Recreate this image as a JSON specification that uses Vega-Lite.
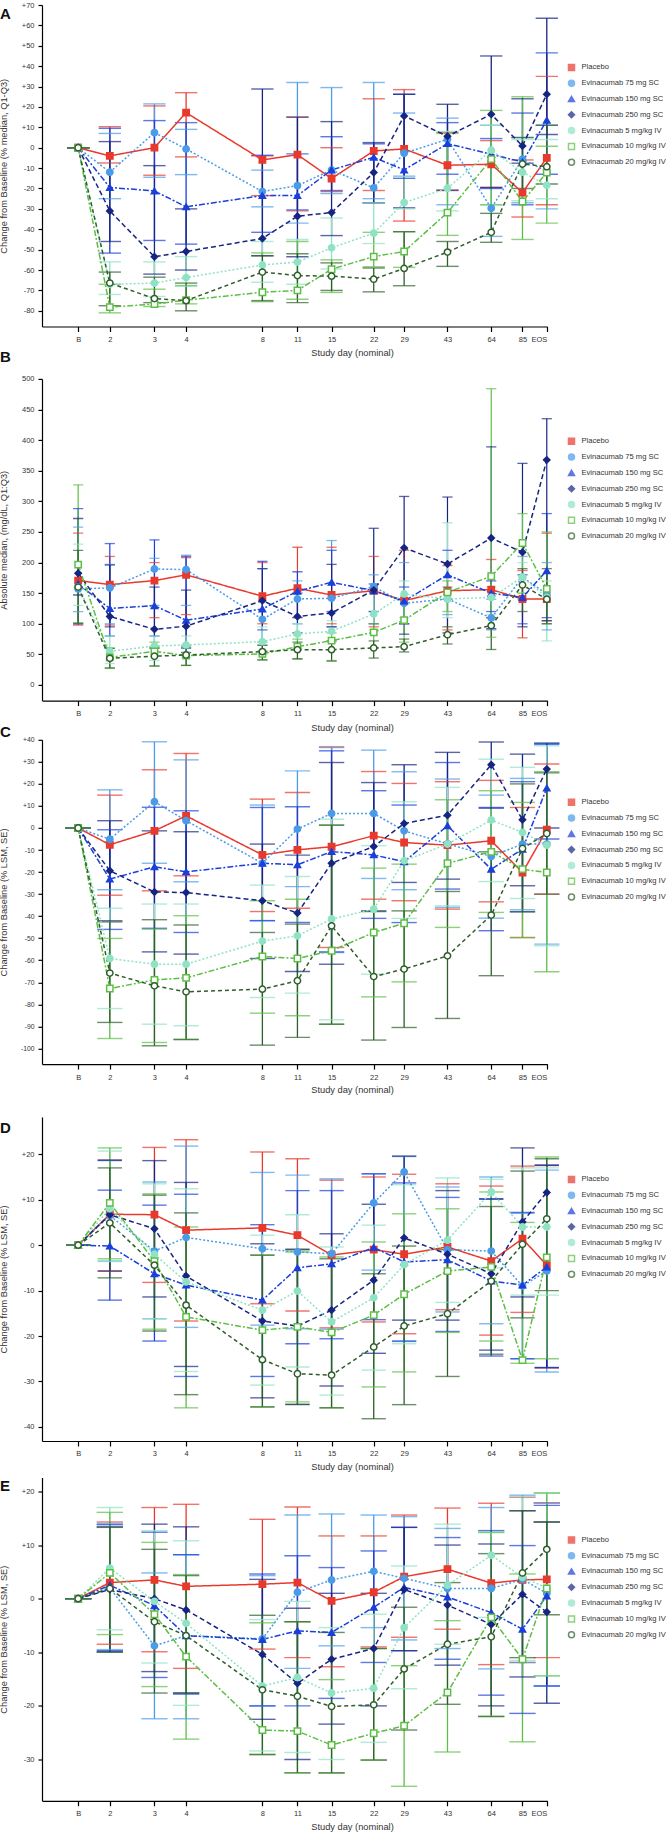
{
"$schema":"https://vega.github.io/schema/vega-lite/v6.json",
"padding":{"left":0,"top":1,"right":0,"bottom":0},
"data":{"name":"rows"},
"datasets":{"rows":[
{"p":"A","g":"Placebo","d":1.5,"v":0,"lo":0,"hi":0},
{"p":"A","g":"Placebo","d":2,"v":-4,"lo":-7.5,"hi":10.3},
{"p":"A","g":"Placebo","d":3,"v":0,"lo":-13.5,"hi":20.5},
{"p":"A","g":"Placebo","d":4,"v":17.2,"lo":-4.5,"hi":27},
{"p":"A","g":"Placebo","d":8,"v":-6,"lo":-23.5,"hi":-4},
{"p":"A","g":"Placebo","d":11,"v":-3.4,"lo":-31,"hi":15},
{"p":"A","g":"Placebo","d":15,"v":-15.1,"lo":-21.5,"hi":0},
{"p":"A","g":"Placebo","d":22,"v":-1.6,"lo":-21,"hi":24},
{"p":"A","g":"Placebo","d":29,"v":-0.6,"lo":-36,"hi":28.5},
{"p":"A","g":"Placebo","d":43,"v":-8.6,"lo":-21,"hi":7.5},
{"p":"A","g":"Placebo","d":64,"v":-8.1,"lo":-19.5,"hi":3.5},
{"p":"A","g":"Placebo","d":85,"v":-22,"lo":-34,"hi":-6},
{"p":"A","g":"Placebo","d":106,"v":-5,"lo":-28,"hi":35},
{"p":"A","g":"Evinacumab 75 mg SC","d":1.5,"v":0,"lo":0,"hi":0},
{"p":"A","g":"Evinacumab 75 mg SC","d":2,"v":-12,"lo":-25,"hi":7},
{"p":"A","g":"Evinacumab 75 mg SC","d":3,"v":7.4,"lo":-14.5,"hi":21.5},
{"p":"A","g":"Evinacumab 75 mg SC","d":4,"v":-0.6,"lo":-13.2,"hi":9},
{"p":"A","g":"Evinacumab 75 mg SC","d":8,"v":-21.5,"lo":-29,"hi":-11},
{"p":"A","g":"Evinacumab 75 mg SC","d":11,"v":-18.6,"lo":-37,"hi":32},
{"p":"A","g":"Evinacumab 75 mg SC","d":15,"v":-10.9,"lo":-22.5,"hi":29.5},
{"p":"A","g":"Evinacumab 75 mg SC","d":22,"v":-19.7,"lo":-25,"hi":32},
{"p":"A","g":"Evinacumab 75 mg SC","d":29,"v":-2.7,"lo":-14,"hi":17},
{"p":"A","g":"Evinacumab 75 mg SC","d":43,"v":4.1,"lo":-28,"hi":14.5},
{"p":"A","g":"Evinacumab 75 mg SC","d":64,"v":-29.7,"lo":-43.5,"hi":11},
{"p":"A","g":"Evinacumab 75 mg SC","d":85,"v":-5.6,"lo":-27,"hi":5},
{"p":"A","g":"Evinacumab 75 mg SC","d":106,"v":-11.7,"lo":-30,"hi":11},
{"p":"A","g":"Evinacumab 150 mg SC","d":1.5,"v":0,"lo":0,"hi":0},
{"p":"A","g":"Evinacumab 150 mg SC","d":2,"v":-19.5,"lo":-51.7,"hi":9.5},
{"p":"A","g":"Evinacumab 150 mg SC","d":3,"v":-21.2,"lo":-45.5,"hi":13.3},
{"p":"A","g":"Evinacumab 150 mg SC","d":4,"v":-29,"lo":-47.3,"hi":12.3},
{"p":"A","g":"Evinacumab 150 mg SC","d":8,"v":-23.5,"lo":-41.5,"hi":-3.7},
{"p":"A","g":"Evinacumab 150 mg SC","d":11,"v":-23.5,"lo":-30.5,"hi":-3},
{"p":"A","g":"Evinacumab 150 mg SC","d":15,"v":-10.9,"lo":-21,"hi":5.4},
{"p":"A","g":"Evinacumab 150 mg SC","d":22,"v":-4.7,"lo":-27,"hi":1.9},
{"p":"A","g":"Evinacumab 150 mg SC","d":29,"v":-10.9,"lo":-15,"hi":26.2},
{"p":"A","g":"Evinacumab 150 mg SC","d":43,"v":2,"lo":-13,"hi":12.3},
{"p":"A","g":"Evinacumab 150 mg SC","d":64,"v":-3.2,"lo":-20,"hi":4.5},
{"p":"A","g":"Evinacumab 150 mg SC","d":85,"v":-7,"lo":-28,"hi":17},
{"p":"A","g":"Evinacumab 150 mg SC","d":106,"v":13.5,"lo":-13,"hi":46.5},
{"p":"A","g":"Evinacumab 250 mg SC","d":1.5,"v":0,"lo":0,"hi":0},
{"p":"A","g":"Evinacumab 250 mg SC","d":2,"v":-31,"lo":-46,"hi":3},
{"p":"A","g":"Evinacumab 250 mg SC","d":3,"v":-53.5,"lo":-62,"hi":-8.8},
{"p":"A","g":"Evinacumab 250 mg SC","d":4,"v":-50.9,"lo":-60,"hi":-30},
{"p":"A","g":"Evinacumab 250 mg SC","d":8,"v":-44.5,"lo":-53,"hi":28.8},
{"p":"A","g":"Evinacumab 250 mg SC","d":11,"v":-33.6,"lo":-53.5,"hi":15},
{"p":"A","g":"Evinacumab 250 mg SC","d":15,"v":-31.8,"lo":-43.1,"hi":12.8},
{"p":"A","g":"Evinacumab 250 mg SC","d":22,"v":-12.2,"lo":-27,"hi":2.5},
{"p":"A","g":"Evinacumab 250 mg SC","d":29,"v":15.6,"lo":-29.5,"hi":26.2},
{"p":"A","g":"Evinacumab 250 mg SC","d":43,"v":5.6,"lo":-20.8,"hi":21.3},
{"p":"A","g":"Evinacumab 250 mg SC","d":64,"v":16.4,"lo":-19.5,"hi":45},
{"p":"A","g":"Evinacumab 250 mg SC","d":85,"v":0.9,"lo":-7.6,"hi":24},
{"p":"A","g":"Evinacumab 250 mg SC","d":106,"v":26.2,"lo":6.5,"hi":63.5},
{"p":"A","g":"Evinacumab 5 mg/kg IV","d":1.5,"v":0,"lo":0,"hi":0},
{"p":"A","g":"Evinacumab 5 mg/kg IV","d":2,"v":-67,"lo":-72,"hi":-56},
{"p":"A","g":"Evinacumab 5 mg/kg IV","d":3,"v":-66.4,"lo":-73,"hi":-56},
{"p":"A","g":"Evinacumab 5 mg/kg IV","d":4,"v":-63.7,"lo":-68,"hi":-53.4},
{"p":"A","g":"Evinacumab 5 mg/kg IV","d":8,"v":-57.5,"lo":-66,"hi":-46},
{"p":"A","g":"Evinacumab 5 mg/kg IV","d":11,"v":-56.1,"lo":-67,"hi":-45},
{"p":"A","g":"Evinacumab 5 mg/kg IV","d":15,"v":-49.1,"lo":-59.5,"hi":-34.5},
{"p":"A","g":"Evinacumab 5 mg/kg IV","d":22,"v":-41.9,"lo":-47,"hi":-27},
{"p":"A","g":"Evinacumab 5 mg/kg IV","d":29,"v":-26.9,"lo":-30,"hi":-14},
{"p":"A","g":"Evinacumab 5 mg/kg IV","d":43,"v":-19.9,"lo":-31,"hi":8},
{"p":"A","g":"Evinacumab 5 mg/kg IV","d":64,"v":-1.2,"lo":-28,"hi":11},
{"p":"A","g":"Evinacumab 5 mg/kg IV","d":85,"v":-12,"lo":-26,"hi":4},
{"p":"A","g":"Evinacumab 5 mg/kg IV","d":106,"v":-18.4,"lo":-25,"hi":4},
{"p":"A","g":"Evinacumab 10 mg/kg IV","d":1.5,"v":0,"lo":0,"hi":0},
{"p":"A","g":"Evinacumab 10 mg/kg IV","d":2,"v":-78.2,"lo":-81,"hi":-67},
{"p":"A","g":"Evinacumab 10 mg/kg IV","d":3,"v":-76.7,"lo":-77.9,"hi":-69.4},
{"p":"A","g":"Evinacumab 10 mg/kg IV","d":4,"v":-74.8,"lo":-76.6,"hi":-67.6},
{"p":"A","g":"Evinacumab 10 mg/kg IV","d":8,"v":-70.9,"lo":-75.5,"hi":-51.6},
{"p":"A","g":"Evinacumab 10 mg/kg IV","d":11,"v":-70,"lo":-74.3,"hi":-46},
{"p":"A","g":"Evinacumab 10 mg/kg IV","d":15,"v":-59.6,"lo":-71,"hi":-55},
{"p":"A","g":"Evinacumab 10 mg/kg IV","d":22,"v":-53.4,"lo":-58.4,"hi":-41.5},
{"p":"A","g":"Evinacumab 10 mg/kg IV","d":29,"v":-50.9,"lo":-58.7,"hi":-41.2},
{"p":"A","g":"Evinacumab 10 mg/kg IV","d":43,"v":-31.8,"lo":-43,"hi":7},
{"p":"A","g":"Evinacumab 10 mg/kg IV","d":64,"v":-5.6,"lo":-28,"hi":18.3},
{"p":"A","g":"Evinacumab 10 mg/kg IV","d":85,"v":-26.4,"lo":-45,"hi":25},
{"p":"A","g":"Evinacumab 10 mg/kg IV","d":106,"v":-12.2,"lo":-37,"hi":0.7},
{"p":"A","g":"Evinacumab 20 mg/kg IV","d":1.5,"v":0,"lo":0,"hi":0},
{"p":"A","g":"Evinacumab 20 mg/kg IV","d":2,"v":-66.4,"lo":-77.5,"hi":-61},
{"p":"A","g":"Evinacumab 20 mg/kg IV","d":3,"v":-74,"lo":-76,"hi":-63.5},
{"p":"A","g":"Evinacumab 20 mg/kg IV","d":4,"v":-75,"lo":-80,"hi":-66.4},
{"p":"A","g":"Evinacumab 20 mg/kg IV","d":8,"v":-61,"lo":-75,"hi":-53},
{"p":"A","g":"Evinacumab 20 mg/kg IV","d":11,"v":-62.7,"lo":-76,"hi":-52},
{"p":"A","g":"Evinacumab 20 mg/kg IV","d":15,"v":-63,"lo":-70,"hi":-56.5},
{"p":"A","g":"Evinacumab 20 mg/kg IV","d":22,"v":-64.5,"lo":-70.7,"hi":-59},
{"p":"A","g":"Evinacumab 20 mg/kg IV","d":29,"v":-59.2,"lo":-67.7,"hi":-41.2},
{"p":"A","g":"Evinacumab 20 mg/kg IV","d":43,"v":-51.2,"lo":-58.2,"hi":-46},
{"p":"A","g":"Evinacumab 20 mg/kg IV","d":64,"v":-41.5,"lo":-46.4,"hi":-32.2},
{"p":"A","g":"Evinacumab 20 mg/kg IV","d":85,"v":-8,"lo":-20,"hi":5},
{"p":"A","g":"Evinacumab 20 mg/kg IV","d":106,"v":-9.3,"lo":-17.8,"hi":11},

{"p":"B","g":"Placebo","d":1.5,"v":170.5,"lo":98,"hi":248},
{"p":"B","g":"Placebo","d":2,"v":164,"lo":98,"hi":210},
{"p":"B","g":"Placebo","d":3,"v":170.5,"lo":110,"hi":200},
{"p":"B","g":"Placebo","d":4,"v":180,"lo":115,"hi":208},
{"p":"B","g":"Placebo","d":8,"v":145,"lo":100,"hi":200},
{"p":"B","g":"Placebo","d":11,"v":158,"lo":110,"hi":225},
{"p":"B","g":"Placebo","d":15,"v":147,"lo":100,"hi":225},
{"p":"B","g":"Placebo","d":22,"v":154,"lo":95,"hi":210},
{"p":"B","g":"Placebo","d":29,"v":137.8,"lo":100,"hi":220},
{"p":"B","g":"Placebo","d":43,"v":154,"lo":90,"hi":195},
{"p":"B","g":"Placebo","d":64,"v":155.8,"lo":110,"hi":205},
{"p":"B","g":"Placebo","d":85,"v":140.5,"lo":77,"hi":187},
{"p":"B","g":"Placebo","d":106,"v":140.5,"lo":105,"hi":248},
{"p":"B","g":"Evinacumab 75 mg SC","d":1.5,"v":157,"lo":120,"hi":258},
{"p":"B","g":"Evinacumab 75 mg SC","d":2,"v":158.5,"lo":100,"hi":197},
{"p":"B","g":"Evinacumab 75 mg SC","d":3,"v":189.5,"lo":130,"hi":207},
{"p":"B","g":"Evinacumab 75 mg SC","d":4,"v":188.5,"lo":130,"hi":212},
{"p":"B","g":"Evinacumab 75 mg SC","d":8,"v":107.3,"lo":70,"hi":190},
{"p":"B","g":"Evinacumab 75 mg SC","d":11,"v":140.5,"lo":100,"hi":170},
{"p":"B","g":"Evinacumab 75 mg SC","d":15,"v":141.6,"lo":95,"hi":236},
{"p":"B","g":"Evinacumab 75 mg SC","d":22,"v":160.7,"lo":120,"hi":180},
{"p":"B","g":"Evinacumab 75 mg SC","d":29,"v":133.5,"lo":100,"hi":200},
{"p":"B","g":"Evinacumab 75 mg SC","d":43,"v":140.5,"lo":115,"hi":160},
{"p":"B","g":"Evinacumab 75 mg SC","d":64,"v":109.5,"lo":90,"hi":140},
{"p":"B","g":"Evinacumab 75 mg SC","d":85,"v":176,"lo":140,"hi":210},
{"p":"B","g":"Evinacumab 75 mg SC","d":106,"v":148.7,"lo":90,"hi":200},
{"p":"B","g":"Evinacumab 150 mg SC","d":1.5,"v":165,"lo":100,"hi":288},
{"p":"B","g":"Evinacumab 150 mg SC","d":2,"v":125,"lo":80,"hi":231},
{"p":"B","g":"Evinacumab 150 mg SC","d":3,"v":129.6,"lo":80,"hi":237},
{"p":"B","g":"Evinacumab 150 mg SC","d":4,"v":105.7,"lo":60,"hi":210},
{"p":"B","g":"Evinacumab 150 mg SC","d":8,"v":124.2,"lo":90,"hi":202},
{"p":"B","g":"Evinacumab 150 mg SC","d":11,"v":153,"lo":110,"hi":185},
{"p":"B","g":"Evinacumab 150 mg SC","d":15,"v":167.8,"lo":120,"hi":220},
{"p":"B","g":"Evinacumab 150 mg SC","d":22,"v":154,"lo":120,"hi":165},
{"p":"B","g":"Evinacumab 150 mg SC","d":29,"v":137,"lo":100,"hi":160},
{"p":"B","g":"Evinacumab 150 mg SC","d":43,"v":180,"lo":140,"hi":220},
{"p":"B","g":"Evinacumab 150 mg SC","d":64,"v":150,"lo":120,"hi":170},
{"p":"B","g":"Evinacumab 150 mg SC","d":85,"v":143,"lo":100,"hi":180},
{"p":"B","g":"Evinacumab 150 mg SC","d":106,"v":186.8,"lo":110,"hi":280},
{"p":"B","g":"Evinacumab 250 mg SC","d":1.5,"v":182.5,"lo":147,"hi":272},
{"p":"B","g":"Evinacumab 250 mg SC","d":2,"v":112,"lo":95,"hi":196},
{"p":"B","g":"Evinacumab 250 mg SC","d":3,"v":91,"lo":60,"hi":160},
{"p":"B","g":"Evinacumab 250 mg SC","d":4,"v":96,"lo":53,"hi":155},
{"p":"B","g":"Evinacumab 250 mg SC","d":8,"v":137.8,"lo":55,"hi":190},
{"p":"B","g":"Evinacumab 250 mg SC","d":11,"v":112,"lo":85,"hi":150},
{"p":"B","g":"Evinacumab 250 mg SC","d":15,"v":117.7,"lo":95,"hi":197},
{"p":"B","g":"Evinacumab 250 mg SC","d":22,"v":155,"lo":100,"hi":256},
{"p":"B","g":"Evinacumab 250 mg SC","d":29,"v":224,"lo":83,"hi":308},
{"p":"B","g":"Evinacumab 250 mg SC","d":43,"v":197.7,"lo":85,"hi":307},
{"p":"B","g":"Evinacumab 250 mg SC","d":64,"v":240,"lo":92,"hi":389},
{"p":"B","g":"Evinacumab 250 mg SC","d":85,"v":216.8,"lo":95,"hi":362},
{"p":"B","g":"Evinacumab 250 mg SC","d":106,"v":367.7,"lo":105,"hi":435},
{"p":"B","g":"Evinacumab 5 mg/kg IV","d":1.5,"v":160,"lo":130,"hi":230},
{"p":"B","g":"Evinacumab 5 mg/kg IV","d":2,"v":55,"lo":35,"hi":80},
{"p":"B","g":"Evinacumab 5 mg/kg IV","d":3,"v":63.7,"lo":40,"hi":80},
{"p":"B","g":"Evinacumab 5 mg/kg IV","d":4,"v":65.4,"lo":45,"hi":80},
{"p":"B","g":"Evinacumab 5 mg/kg IV","d":8,"v":70.8,"lo":50,"hi":95},
{"p":"B","g":"Evinacumab 5 mg/kg IV","d":11,"v":83.3,"lo":60,"hi":100},
{"p":"B","g":"Evinacumab 5 mg/kg IV","d":15,"v":87.7,"lo":70,"hi":105},
{"p":"B","g":"Evinacumab 5 mg/kg IV","d":22,"v":116,"lo":90,"hi":150},
{"p":"B","g":"Evinacumab 5 mg/kg IV","d":29,"v":148.7,"lo":110,"hi":170},
{"p":"B","g":"Evinacumab 5 mg/kg IV","d":43,"v":140.5,"lo":110,"hi":265},
{"p":"B","g":"Evinacumab 5 mg/kg IV","d":64,"v":143,"lo":115,"hi":160},
{"p":"B","g":"Evinacumab 5 mg/kg IV","d":85,"v":176,"lo":150,"hi":200},
{"p":"B","g":"Evinacumab 5 mg/kg IV","d":106,"v":143,"lo":72,"hi":170},
{"p":"B","g":"Evinacumab 10 mg/kg IV","d":1.5,"v":196.6,"lo":101,"hi":327},
{"p":"B","g":"Evinacumab 10 mg/kg IV","d":2,"v":45,"lo":27,"hi":60},
{"p":"B","g":"Evinacumab 10 mg/kg IV","d":3,"v":55,"lo":31,"hi":70},
{"p":"B","g":"Evinacumab 10 mg/kg IV","d":4,"v":48,"lo":32,"hi":65},
{"p":"B","g":"Evinacumab 10 mg/kg IV","d":8,"v":50.7,"lo":41,"hi":65},
{"p":"B","g":"Evinacumab 10 mg/kg IV","d":11,"v":62.6,"lo":42,"hi":75},
{"p":"B","g":"Evinacumab 10 mg/kg IV","d":15,"v":72.4,"lo":40,"hi":85},
{"p":"B","g":"Evinacumab 10 mg/kg IV","d":22,"v":86,"lo":60,"hi":100},
{"p":"B","g":"Evinacumab 10 mg/kg IV","d":29,"v":106,"lo":70,"hi":140},
{"p":"B","g":"Evinacumab 10 mg/kg IV","d":43,"v":151.4,"lo":120,"hi":170},
{"p":"B","g":"Evinacumab 10 mg/kg IV","d":64,"v":177.6,"lo":78,"hi":484},
{"p":"B","g":"Evinacumab 10 mg/kg IV","d":85,"v":232,"lo":150,"hi":280},
{"p":"B","g":"Evinacumab 10 mg/kg IV","d":106,"v":157,"lo":100,"hi":250},
{"p":"B","g":"Evinacumab 20 mg/kg IV","d":1.5,"v":160,"lo":101,"hi":220},
{"p":"B","g":"Evinacumab 20 mg/kg IV","d":2,"v":43.6,"lo":28,"hi":60},
{"p":"B","g":"Evinacumab 20 mg/kg IV","d":3,"v":47,"lo":31,"hi":62},
{"p":"B","g":"Evinacumab 20 mg/kg IV","d":4,"v":49,"lo":32,"hi":62},
{"p":"B","g":"Evinacumab 20 mg/kg IV","d":8,"v":54.5,"lo":41,"hi":65},
{"p":"B","g":"Evinacumab 20 mg/kg IV","d":11,"v":57.7,"lo":43,"hi":70},
{"p":"B","g":"Evinacumab 20 mg/kg IV","d":15,"v":57.7,"lo":39,"hi":72},
{"p":"B","g":"Evinacumab 20 mg/kg IV","d":22,"v":60.5,"lo":44,"hi":72},
{"p":"B","g":"Evinacumab 20 mg/kg IV","d":29,"v":62.6,"lo":54,"hi":75},
{"p":"B","g":"Evinacumab 20 mg/kg IV","d":43,"v":82.2,"lo":67,"hi":95},
{"p":"B","g":"Evinacumab 20 mg/kg IV","d":64,"v":97,"lo":58,"hi":110},
{"p":"B","g":"Evinacumab 20 mg/kg IV","d":85,"v":163.4,"lo":120,"hi":190},
{"p":"B","g":"Evinacumab 20 mg/kg IV","d":106,"v":140,"lo":100,"hi":190},

{"p":"C","g":"Placebo","d":1.5,"v":0,"lo":0,"hi":0},
{"p":"C","g":"Placebo","d":2,"v":-7.6,"lo":-30.5,"hi":14.9},
{"p":"C","g":"Placebo","d":3,"v":-1.3,"lo":-28.5,"hi":26.4},
{"p":"C","g":"Placebo","d":4,"v":5.5,"lo":-21.7,"hi":33.8},
{"p":"C","g":"Placebo","d":8,"v":-12.2,"lo":-37.9,"hi":13.1},
{"p":"C","g":"Placebo","d":11,"v":-9.9,"lo":-36.4,"hi":16.1},
{"p":"C","g":"Placebo","d":15,"v":-8.5,"lo":-54.2,"hi":36.8},
{"p":"C","g":"Placebo","d":22,"v":-3.5,"lo":-32.3,"hi":25.6},
{"p":"C","g":"Placebo","d":29,"v":-6.6,"lo":-33,"hi":20.2},
{"p":"C","g":"Placebo","d":43,"v":-7.8,"lo":-36.8,"hi":21},
{"p":"C","g":"Placebo","d":64,"v":-5.8,"lo":-33.5,"hi":21.6},
{"p":"C","g":"Placebo","d":85,"v":-20.2,"lo":-49.7,"hi":9.3},
{"p":"C","g":"Placebo","d":106,"v":-0.8,"lo":-30,"hi":29},
{"p":"C","g":"Evinacumab 75 mg SC","d":1.5,"v":0,"lo":0,"hi":0},
{"p":"C","g":"Evinacumab 75 mg SC","d":2,"v":-5.1,"lo":-28,"hi":17.3},
{"p":"C","g":"Evinacumab 75 mg SC","d":3,"v":11.9,"lo":-16,"hi":39.1},
{"p":"C","g":"Evinacumab 75 mg SC","d":4,"v":3.3,"lo":-24.4,"hi":30.9},
{"p":"C","g":"Evinacumab 75 mg SC","d":8,"v":-16,"lo":-42.1,"hi":10.4},
{"p":"C","g":"Evinacumab 75 mg SC","d":11,"v":-0.5,"lo":-26.6,"hi":25.9},
{"p":"C","g":"Evinacumab 75 mg SC","d":15,"v":6.6,"lo":-56.5,"hi":36.5},
{"p":"C","g":"Evinacumab 75 mg SC","d":22,"v":6.6,"lo":-22.9,"hi":35.3},
{"p":"C","g":"Evinacumab 75 mg SC","d":29,"v":-1.3,"lo":-28,"hi":25.5},
{"p":"C","g":"Evinacumab 75 mg SC","d":43,"v":-7.2,"lo":-36,"hi":22.2},
{"p":"C","g":"Evinacumab 75 mg SC","d":64,"v":-12.9,"lo":-40.9,"hi":14.9},
{"p":"C","g":"Evinacumab 75 mg SC","d":85,"v":-7.3,"lo":-37.1,"hi":22.5},
{"p":"C","g":"Evinacumab 75 mg SC","d":106,"v":-7.3,"lo":-52.7,"hi":38.5},
{"p":"C","g":"Evinacumab 150 mg SC","d":1.5,"v":0,"lo":0,"hi":0},
{"p":"C","g":"Evinacumab 150 mg SC","d":2,"v":-23.2,"lo":-46,"hi":-0.8},
{"p":"C","g":"Evinacumab 150 mg SC","d":3,"v":-17.6,"lo":-45.5,"hi":9.4},
{"p":"C","g":"Evinacumab 150 mg SC","d":4,"v":-19.9,"lo":-47.4,"hi":7.8},
{"p":"C","g":"Evinacumab 150 mg SC","d":8,"v":-16,"lo":-42,"hi":9.3},
{"p":"C","g":"Evinacumab 150 mg SC","d":11,"v":-16.7,"lo":-42.9,"hi":9.6},
{"p":"C","g":"Evinacumab 150 mg SC","d":15,"v":-10.7,"lo":-56.2,"hi":35},
{"p":"C","g":"Evinacumab 150 mg SC","d":22,"v":-12.2,"lo":-41,"hi":16.9},
{"p":"C","g":"Evinacumab 150 mg SC","d":29,"v":-15.3,"lo":-42.9,"hi":10.4},
{"p":"C","g":"Evinacumab 150 mg SC","d":43,"v":1,"lo":-27.7,"hi":29.7},
{"p":"C","g":"Evinacumab 150 mg SC","d":64,"v":-18.7,"lo":-46.6,"hi":9.3},
{"p":"C","g":"Evinacumab 150 mg SC","d":85,"v":-9.6,"lo":-38,"hi":21},
{"p":"C","g":"Evinacumab 150 mg SC","d":106,"v":18.1,"lo":-5,"hi":38},
{"p":"C","g":"Evinacumab 250 mg SC","d":1.5,"v":0,"lo":0,"hi":0},
{"p":"C","g":"Evinacumab 250 mg SC","d":2,"v":-19.4,"lo":-42.1,"hi":3.3},
{"p":"C","g":"Evinacumab 250 mg SC","d":3,"v":-29,"lo":-56.2,"hi":-1.3},
{"p":"C","g":"Evinacumab 250 mg SC","d":4,"v":-29.3,"lo":-57.2,"hi":-1.7},
{"p":"C","g":"Evinacumab 250 mg SC","d":8,"v":-33,"lo":-59.2,"hi":-7.3},
{"p":"C","g":"Evinacumab 250 mg SC","d":11,"v":-38.6,"lo":-65.1,"hi":-12.3},
{"p":"C","g":"Evinacumab 250 mg SC","d":15,"v":-16,"lo":-61.8,"hi":29.7},
{"p":"C","g":"Evinacumab 250 mg SC","d":22,"v":-8.4,"lo":-37.6,"hi":20.6},
{"p":"C","g":"Evinacumab 250 mg SC","d":29,"v":2,"lo":-24.7,"hi":28.7},
{"p":"C","g":"Evinacumab 250 mg SC","d":43,"v":5.8,"lo":-23.2,"hi":34.3},
{"p":"C","g":"Evinacumab 250 mg SC","d":64,"v":28.7,"lo":9,"hi":39},
{"p":"C","g":"Evinacumab 250 mg SC","d":85,"v":3.7,"lo":-26.2,"hi":33.5},
{"p":"C","g":"Evinacumab 250 mg SC","d":106,"v":26.7,"lo":0,"hi":38.5},
{"p":"C","g":"Evinacumab 5 mg/kg IV","d":1.5,"v":0,"lo":0,"hi":0},
{"p":"C","g":"Evinacumab 5 mg/kg IV","d":2,"v":-59.2,"lo":-81.9,"hi":-36.4},
{"p":"C","g":"Evinacumab 5 mg/kg IV","d":3,"v":-61.8,"lo":-89,"hi":-34.5},
{"p":"C","g":"Evinacumab 5 mg/kg IV","d":4,"v":-61.8,"lo":-89.7,"hi":-34.5},
{"p":"C","g":"Evinacumab 5 mg/kg IV","d":8,"v":-51.3,"lo":-76.9,"hi":-25.9},
{"p":"C","g":"Evinacumab 5 mg/kg IV","d":11,"v":-48.9,"lo":-74.9,"hi":-22},
{"p":"C","g":"Evinacumab 5 mg/kg IV","d":15,"v":-41.3,"lo":-87,"hi":4},
{"p":"C","g":"Evinacumab 5 mg/kg IV","d":22,"v":-36.8,"lo":-66.3,"hi":-8},
{"p":"C","g":"Evinacumab 5 mg/kg IV","d":29,"v":-14.9,"lo":-41,"hi":11.9},
{"p":"C","g":"Evinacumab 5 mg/kg IV","d":43,"v":-7.3,"lo":-35.3,"hi":18.4},
{"p":"C","g":"Evinacumab 5 mg/kg IV","d":64,"v":3.6,"lo":-24.3,"hi":31.2},
{"p":"C","g":"Evinacumab 5 mg/kg IV","d":85,"v":-2,"lo":-32,"hi":27.5},
{"p":"C","g":"Evinacumab 5 mg/kg IV","d":106,"v":-7.8,"lo":-53.4,"hi":37.3},
{"p":"C","g":"Evinacumab 10 mg/kg IV","d":1.5,"v":0,"lo":0,"hi":0},
{"p":"C","g":"Evinacumab 10 mg/kg IV","d":2,"v":-72.8,"lo":-95.5,"hi":-50.1},
{"p":"C","g":"Evinacumab 10 mg/kg IV","d":3,"v":-68.9,"lo":-97.3,"hi":-45.9},
{"p":"C","g":"Evinacumab 10 mg/kg IV","d":4,"v":-68,"lo":-95.8,"hi":-39.8},
{"p":"C","g":"Evinacumab 10 mg/kg IV","d":8,"v":-58.3,"lo":-84,"hi":-33},
{"p":"C","g":"Evinacumab 10 mg/kg IV","d":11,"v":-59.2,"lo":-85.2,"hi":-32.3},
{"p":"C","g":"Evinacumab 10 mg/kg IV","d":15,"v":-55.7,"lo":-89,"hi":1.3},
{"p":"C","g":"Evinacumab 10 mg/kg IV","d":22,"v":-47.4,"lo":-76.6,"hi":-18.2},
{"p":"C","g":"Evinacumab 10 mg/kg IV","d":29,"v":-43.2,"lo":-69.8,"hi":-16.4},
{"p":"C","g":"Evinacumab 10 mg/kg IV","d":43,"v":-16,"lo":-45.1,"hi":12.8},
{"p":"C","g":"Evinacumab 10 mg/kg IV","d":64,"v":-10.8,"lo":-38.3,"hi":16.9},
{"p":"C","g":"Evinacumab 10 mg/kg IV","d":85,"v":-18.7,"lo":-49.7,"hi":11.6},
{"p":"C","g":"Evinacumab 10 mg/kg IV","d":106,"v":-20.2,"lo":-65.2,"hi":25.5},
{"p":"C","g":"Evinacumab 20 mg/kg IV","d":1.5,"v":0,"lo":0,"hi":0},
{"p":"C","g":"Evinacumab 20 mg/kg IV","d":2,"v":-65.8,"lo":-88.2,"hi":-42.6},
{"p":"C","g":"Evinacumab 20 mg/kg IV","d":3,"v":-71.6,"lo":-98.8,"hi":-41.6},
{"p":"C","g":"Evinacumab 20 mg/kg IV","d":4,"v":-74.3,"lo":-96,"hi":-44},
{"p":"C","g":"Evinacumab 20 mg/kg IV","d":8,"v":-73.1,"lo":-98.5,"hi":-47.4},
{"p":"C","g":"Evinacumab 20 mg/kg IV","d":11,"v":-69.3,"lo":-95,"hi":-43.6},
{"p":"C","g":"Evinacumab 20 mg/kg IV","d":15,"v":-44.4,"lo":-89,"hi":1.3},
{"p":"C","g":"Evinacumab 20 mg/kg IV","d":22,"v":-67.4,"lo":-96.2,"hi":-37.9},
{"p":"C","g":"Evinacumab 20 mg/kg IV","d":29,"v":-64,"lo":-90.5,"hi":-37.6},
{"p":"C","g":"Evinacumab 20 mg/kg IV","d":43,"v":-58,"lo":-86.4,"hi":-28.8},
{"p":"C","g":"Evinacumab 20 mg/kg IV","d":64,"v":-39.5,"lo":-67,"hi":-10.8},
{"p":"C","g":"Evinacumab 20 mg/kg IV","d":85,"v":-9.3,"lo":-38,"hi":20},
{"p":"C","g":"Evinacumab 20 mg/kg IV","d":106,"v":-2.5,"lo":-30,"hi":25},

{"p":"D","g":"Placebo","d":1.5,"v":0,"lo":0,"hi":0},
{"p":"D","g":"Placebo","d":2,"v":6.8,"lo":-5.7,"hi":18.7},
{"p":"D","g":"Placebo","d":3,"v":6.7,"lo":-8.2,"hi":21.5},
{"p":"D","g":"Placebo","d":4,"v":3.3,"lo":-16.7,"hi":23.2},
{"p":"D","g":"Placebo","d":8,"v":3.8,"lo":-12.9,"hi":20.5},
{"p":"D","g":"Placebo","d":11,"v":2.2,"lo":-14.5,"hi":19},
{"p":"D","g":"Placebo","d":15,"v":-2.2,"lo":-18.2,"hi":14.3},
{"p":"D","g":"Placebo","d":22,"v":-1,"lo":-16.9,"hi":15},
{"p":"D","g":"Placebo","d":29,"v":-2,"lo":-19.5,"hi":15.6},
{"p":"D","g":"Placebo","d":43,"v":-0.4,"lo":-14.2,"hi":13.5},
{"p":"D","g":"Placebo","d":64,"v":-3.5,"lo":-19.8,"hi":13},
{"p":"D","g":"Placebo","d":85,"v":1.4,"lo":-14.8,"hi":17.4},
{"p":"D","g":"Placebo","d":106,"v":-4.4,"lo":-27,"hi":17.5},
{"p":"D","g":"Evinacumab 75 mg SC","d":1.5,"v":0,"lo":0,"hi":0},
{"p":"D","g":"Evinacumab 75 mg SC","d":2,"v":6.5,"lo":-3.5,"hi":18.6},
{"p":"D","g":"Evinacumab 75 mg SC","d":3,"v":-1.3,"lo":-16.2,"hi":13.9},
{"p":"D","g":"Evinacumab 75 mg SC","d":4,"v":1.7,"lo":-18.1,"hi":21.8},
{"p":"D","g":"Evinacumab 75 mg SC","d":8,"v":-0.8,"lo":-17.6,"hi":16},
{"p":"D","g":"Evinacumab 75 mg SC","d":11,"v":-1.5,"lo":-18.4,"hi":15.4},
{"p":"D","g":"Evinacumab 75 mg SC","d":15,"v":-1.9,"lo":-18.5,"hi":14.6},
{"p":"D","g":"Evinacumab 75 mg SC","d":22,"v":9.3,"lo":-5.5,"hi":15.7},
{"p":"D","g":"Evinacumab 75 mg SC","d":29,"v":16.1,"lo":-21.2,"hi":19.5},
{"p":"D","g":"Evinacumab 75 mg SC","d":43,"v":-1,"lo":-14.7,"hi":12.8},
{"p":"D","g":"Evinacumab 75 mg SC","d":64,"v":-1.3,"lo":-17.3,"hi":15},
{"p":"D","g":"Evinacumab 75 mg SC","d":85,"v":-9,"lo":-25,"hi":7},
{"p":"D","g":"Evinacumab 75 mg SC","d":106,"v":-5.7,"lo":-27.9,"hi":16.5},
{"p":"D","g":"Evinacumab 150 mg SC","d":1.5,"v":0,"lo":0,"hi":0},
{"p":"D","g":"Evinacumab 150 mg SC","d":2,"v":-0.2,"lo":-12.1,"hi":12.1},
{"p":"D","g":"Evinacumab 150 mg SC","d":3,"v":-6.3,"lo":-21.1,"hi":8.8},
{"p":"D","g":"Evinacumab 150 mg SC","d":4,"v":-8.8,"lo":-28.9,"hi":11.2},
{"p":"D","g":"Evinacumab 150 mg SC","d":8,"v":-12.1,"lo":-28.9,"hi":4.5},
{"p":"D","g":"Evinacumab 150 mg SC","d":11,"v":-5,"lo":-21.7,"hi":12},
{"p":"D","g":"Evinacumab 150 mg SC","d":15,"v":-4.1,"lo":-20.6,"hi":12},
{"p":"D","g":"Evinacumab 150 mg SC","d":22,"v":-0.5,"lo":-16.4,"hi":15.7},
{"p":"D","g":"Evinacumab 150 mg SC","d":29,"v":-3.7,"lo":-21.1,"hi":13.7},
{"p":"D","g":"Evinacumab 150 mg SC","d":43,"v":-3.2,"lo":-19,"hi":10.5},
{"p":"D","g":"Evinacumab 150 mg SC","d":64,"v":-7.9,"lo":-24.4,"hi":10.1},
{"p":"D","g":"Evinacumab 150 mg SC","d":85,"v":-8.8,"lo":-25,"hi":7.2},
{"p":"D","g":"Evinacumab 150 mg SC","d":106,"v":-4.8,"lo":-26.9,"hi":17.6},
{"p":"D","g":"Evinacumab 250 mg SC","d":1.5,"v":0,"lo":0,"hi":0},
{"p":"D","g":"Evinacumab 250 mg SC","d":2,"v":6.7,"lo":-5.7,"hi":18.7},
{"p":"D","g":"Evinacumab 250 mg SC","d":3,"v":3.6,"lo":-11.4,"hi":18.6},
{"p":"D","g":"Evinacumab 250 mg SC","d":4,"v":-6.8,"lo":-26.7,"hi":13.8},
{"p":"D","g":"Evinacumab 250 mg SC","d":8,"v":-16.7,"lo":-33.6,"hi":0.3},
{"p":"D","g":"Evinacumab 250 mg SC","d":11,"v":-17.8,"lo":-35.1,"hi":-0.9},
{"p":"D","g":"Evinacumab 250 mg SC","d":15,"v":-14.3,"lo":-31,"hi":2.5},
{"p":"D","g":"Evinacumab 250 mg SC","d":22,"v":-7.7,"lo":-23.8,"hi":9},
{"p":"D","g":"Evinacumab 250 mg SC","d":29,"v":1.6,"lo":-16.5,"hi":19.6},
{"p":"D","g":"Evinacumab 250 mg SC","d":43,"v":-2,"lo":-16.5,"hi":12},
{"p":"D","g":"Evinacumab 250 mg SC","d":64,"v":-6.3,"lo":-23.1,"hi":10.2},
{"p":"D","g":"Evinacumab 250 mg SC","d":85,"v":5.1,"lo":-11.4,"hi":21.4},
{"p":"D","g":"Evinacumab 250 mg SC","d":106,"v":11.6,"lo":-27,"hi":17.6},
{"p":"D","g":"Evinacumab 5 mg/kg IV","d":1.5,"v":0,"lo":0,"hi":0},
{"p":"D","g":"Evinacumab 5 mg/kg IV","d":2,"v":8,"lo":-3.6,"hi":20.7},
{"p":"D","g":"Evinacumab 5 mg/kg IV","d":3,"v":-2,"lo":-16.2,"hi":13.5},
{"p":"D","g":"Evinacumab 5 mg/kg IV","d":4,"v":-8.1,"lo":-27.8,"hi":12.4},
{"p":"D","g":"Evinacumab 5 mg/kg IV","d":8,"v":-14.3,"lo":-30.8,"hi":2.2},
{"p":"D","g":"Evinacumab 5 mg/kg IV","d":11,"v":-10.1,"lo":-26.8,"hi":6.7},
{"p":"D","g":"Evinacumab 5 mg/kg IV","d":15,"v":-16.9,"lo":-33,"hi":-0.4},
{"p":"D","g":"Evinacumab 5 mg/kg IV","d":22,"v":-11.6,"lo":-27.5,"hi":4.4},
{"p":"D","g":"Evinacumab 5 mg/kg IV","d":29,"v":-4.3,"lo":-21.7,"hi":13.3},
{"p":"D","g":"Evinacumab 5 mg/kg IV","d":43,"v":1.1,"lo":-12.6,"hi":14.8},
{"p":"D","g":"Evinacumab 5 mg/kg IV","d":64,"v":11.7,"lo":-5,"hi":14.5},
{"p":"D","g":"Evinacumab 5 mg/kg IV","d":85,"v":4,"lo":-11,"hi":17},
{"p":"D","g":"Evinacumab 5 mg/kg IV","d":106,"v":4,"lo":-11,"hi":17},
{"p":"D","g":"Evinacumab 10 mg/kg IV","d":1.5,"v":0,"lo":0,"hi":0},
{"p":"D","g":"Evinacumab 10 mg/kg IV","d":2,"v":9.3,"lo":-3,"hi":21.4},
{"p":"D","g":"Evinacumab 10 mg/kg IV","d":3,"v":-3.5,"lo":-18.5,"hi":11.3},
{"p":"D","g":"Evinacumab 10 mg/kg IV","d":4,"v":-15.8,"lo":-35.8,"hi":4},
{"p":"D","g":"Evinacumab 10 mg/kg IV","d":8,"v":-18.7,"lo":-35.6,"hi":-2.2},
{"p":"D","g":"Evinacumab 10 mg/kg IV","d":11,"v":-18,"lo":-34.5,"hi":-1.5},
{"p":"D","g":"Evinacumab 10 mg/kg IV","d":15,"v":-19.2,"lo":-35.8,"hi":-2.6},
{"p":"D","g":"Evinacumab 10 mg/kg IV","d":22,"v":-15.4,"lo":-31.2,"hi":0.7},
{"p":"D","g":"Evinacumab 10 mg/kg IV","d":29,"v":-10.8,"lo":-27.9,"hi":6.9},
{"p":"D","g":"Evinacumab 10 mg/kg IV","d":43,"v":-5.7,"lo":-19.2,"hi":8},
{"p":"D","g":"Evinacumab 10 mg/kg IV","d":64,"v":-4.8,"lo":-21.1,"hi":11.7},
{"p":"D","g":"Evinacumab 10 mg/kg IV","d":85,"v":-25.3,"lo":-26,"hi":5},
{"p":"D","g":"Evinacumab 10 mg/kg IV","d":106,"v":-2.7,"lo":-25,"hi":19.4},
{"p":"D","g":"Evinacumab 20 mg/kg IV","d":1.5,"v":0,"lo":0,"hi":0},
{"p":"D","g":"Evinacumab 20 mg/kg IV","d":2,"v":4.9,"lo":-7.2,"hi":17},
{"p":"D","g":"Evinacumab 20 mg/kg IV","d":3,"v":-4.4,"lo":-18.9,"hi":11},
{"p":"D","g":"Evinacumab 20 mg/kg IV","d":4,"v":-13.2,"lo":-32.9,"hi":7.1},
{"p":"D","g":"Evinacumab 20 mg/kg IV","d":8,"v":-25.2,"lo":-35.6,"hi":-2.2},
{"p":"D","g":"Evinacumab 20 mg/kg IV","d":11,"v":-28.3,"lo":-35,"hi":-1},
{"p":"D","g":"Evinacumab 20 mg/kg IV","d":15,"v":-28.6,"lo":-35.8,"hi":-3},
{"p":"D","g":"Evinacumab 20 mg/kg IV","d":22,"v":-22.4,"lo":-38.2,"hi":-6.3},
{"p":"D","g":"Evinacumab 20 mg/kg IV","d":29,"v":-17.8,"lo":-35.1,"hi":-0.2},
{"p":"D","g":"Evinacumab 20 mg/kg IV","d":43,"v":-15.1,"lo":-28.9,"hi":-1},
{"p":"D","g":"Evinacumab 20 mg/kg IV","d":64,"v":-7.9,"lo":-24,"hi":8.5},
{"p":"D","g":"Evinacumab 20 mg/kg IV","d":85,"v":0.2,"lo":-16,"hi":16.3},
{"p":"D","g":"Evinacumab 20 mg/kg IV","d":106,"v":5.8,"lo":-10,"hi":19},

{"p":"E","g":"Placebo","d":1.5,"v":0,"lo":0,"hi":0},
{"p":"E","g":"Placebo","d":2,"v":3,"lo":-8.5,"hi":14.3},
{"p":"E","g":"Placebo","d":3,"v":3.5,"lo":-9.9,"hi":17},
{"p":"E","g":"Placebo","d":4,"v":2.3,"lo":-13,"hi":17.6},
{"p":"E","g":"Placebo","d":8,"v":2.7,"lo":-9.4,"hi":14.8},
{"p":"E","g":"Placebo","d":11,"v":3,"lo":-11,"hi":17.1},
{"p":"E","g":"Placebo","d":15,"v":-0.4,"lo":-12.7,"hi":11.7},
{"p":"E","g":"Placebo","d":22,"v":1.2,"lo":-9,"hi":11.7},
{"p":"E","g":"Placebo","d":29,"v":4.1,"lo":-7.2,"hi":15.6},
{"p":"E","g":"Placebo","d":43,"v":5.5,"lo":-5.7,"hi":16.9},
{"p":"E","g":"Placebo","d":64,"v":2.9,"lo":-12.3,"hi":17.8},
{"p":"E","g":"Placebo","d":85,"v":3.5,"lo":-11.9,"hi":18.9},
{"p":"E","g":"Placebo","d":106,"v":3.6,"lo":-11,"hi":17.9},
{"p":"E","g":"Evinacumab 75 mg SC","d":1.5,"v":0,"lo":0,"hi":0},
{"p":"E","g":"Evinacumab 75 mg SC","d":2,"v":2,"lo":-9.5,"hi":14},
{"p":"E","g":"Evinacumab 75 mg SC","d":3,"v":-8.8,"lo":-22.4,"hi":4.8},
{"p":"E","g":"Evinacumab 75 mg SC","d":4,"v":-6.9,"lo":-22.4,"hi":8.2},
{"p":"E","g":"Evinacumab 75 mg SC","d":8,"v":-7.5,"lo":-20,"hi":4.3},
{"p":"E","g":"Evinacumab 75 mg SC","d":11,"v":1.2,"lo":-13,"hi":15.6},
{"p":"E","g":"Evinacumab 75 mg SC","d":15,"v":3.5,"lo":-8.8,"hi":15.8},
{"p":"E","g":"Evinacumab 75 mg SC","d":22,"v":5.1,"lo":-5.4,"hi":15.6},
{"p":"E","g":"Evinacumab 75 mg SC","d":29,"v":3.8,"lo":-7.7,"hi":15.3},
{"p":"E","g":"Evinacumab 75 mg SC","d":43,"v":1.9,"lo":-9.3,"hi":13.1},
{"p":"E","g":"Evinacumab 75 mg SC","d":64,"v":1.9,"lo":-13.1,"hi":17},
{"p":"E","g":"Evinacumab 75 mg SC","d":85,"v":3.6,"lo":-11.9,"hi":19.3},
{"p":"E","g":"Evinacumab 75 mg SC","d":106,"v":1,"lo":-16.3,"hi":17.8},
{"p":"E","g":"Evinacumab 150 mg SC","d":1.5,"v":0,"lo":0,"hi":0},
{"p":"E","g":"Evinacumab 150 mg SC","d":2,"v":2.5,"lo":-9.7,"hi":13.8},
{"p":"E","g":"Evinacumab 150 mg SC","d":3,"v":-1.3,"lo":-14.7,"hi":12.4},
{"p":"E","g":"Evinacumab 150 mg SC","d":4,"v":-6.9,"lo":-17.8,"hi":8.2},
{"p":"E","g":"Evinacumab 150 mg SC","d":8,"v":-7.6,"lo":-20,"hi":4.6},
{"p":"E","g":"Evinacumab 150 mg SC","d":11,"v":-6,"lo":-20,"hi":8},
{"p":"E","g":"Evinacumab 150 mg SC","d":15,"v":-6.3,"lo":-18.6,"hi":5.8},
{"p":"E","g":"Evinacumab 150 mg SC","d":22,"v":-1.6,"lo":-11.9,"hi":8.9},
{"p":"E","g":"Evinacumab 150 mg SC","d":29,"v":2.1,"lo":-9.7,"hi":13.3},
{"p":"E","g":"Evinacumab 150 mg SC","d":43,"v":0.3,"lo":-11.3,"hi":11.4},
{"p":"E","g":"Evinacumab 150 mg SC","d":64,"v":-2.6,"lo":-18,"hi":12.7},
{"p":"E","g":"Evinacumab 150 mg SC","d":85,"v":-5.7,"lo":-21.4,"hi":9.9},
{"p":"E","g":"Evinacumab 150 mg SC","d":106,"v":0.5,"lo":-16.3,"hi":17.4},
{"p":"E","g":"Evinacumab 250 mg SC","d":1.5,"v":0,"lo":0,"hi":0},
{"p":"E","g":"Evinacumab 250 mg SC","d":2,"v":1.7,"lo":-9.9,"hi":13.4},
{"p":"E","g":"Evinacumab 250 mg SC","d":3,"v":0,"lo":-13.6,"hi":13.9},
{"p":"E","g":"Evinacumab 250 mg SC","d":4,"v":-2.1,"lo":-17.6,"hi":13.4},
{"p":"E","g":"Evinacumab 250 mg SC","d":8,"v":-10.4,"lo":-22.5,"hi":3.6},
{"p":"E","g":"Evinacumab 250 mg SC","d":11,"v":-15.8,"lo":-30,"hi":-1.8},
{"p":"E","g":"Evinacumab 250 mg SC","d":15,"v":-11.3,"lo":-23.4,"hi":1},
{"p":"E","g":"Evinacumab 250 mg SC","d":22,"v":-9.3,"lo":-20,"hi":1},
{"p":"E","g":"Evinacumab 250 mg SC","d":29,"v":1.7,"lo":-9.7,"hi":13.3},
{"p":"E","g":"Evinacumab 250 mg SC","d":43,"v":-1.2,"lo":-12.4,"hi":10},
{"p":"E","g":"Evinacumab 250 mg SC","d":64,"v":-4.8,"lo":-20,"hi":10.2},
{"p":"E","g":"Evinacumab 250 mg SC","d":85,"v":0.8,"lo":-14.6,"hi":16.4},
{"p":"E","g":"Evinacumab 250 mg SC","d":106,"v":-2.5,"lo":-19.5,"hi":14.3},
{"p":"E","g":"Evinacumab 5 mg/kg IV","d":1.5,"v":0,"lo":0,"hi":0},
{"p":"E","g":"Evinacumab 5 mg/kg IV","d":2,"v":5.7,"lo":-5.8,"hi":17},
{"p":"E","g":"Evinacumab 5 mg/kg IV","d":3,"v":-0.5,"lo":-12,"hi":12.7},
{"p":"E","g":"Evinacumab 5 mg/kg IV","d":4,"v":-4.6,"lo":-19.9,"hi":10.8},
{"p":"E","g":"Evinacumab 5 mg/kg IV","d":8,"v":-16.3,"lo":-28.4,"hi":-3.9},
{"p":"E","g":"Evinacumab 5 mg/kg IV","d":11,"v":-14.7,"lo":-28.7,"hi":-0.5},
{"p":"E","g":"Evinacumab 5 mg/kg IV","d":15,"v":-17.6,"lo":-30,"hi":-5.4},
{"p":"E","g":"Evinacumab 5 mg/kg IV","d":22,"v":-16.7,"lo":-26.8,"hi":-2.9},
{"p":"E","g":"Evinacumab 5 mg/kg IV","d":29,"v":-5.4,"lo":-16.8,"hi":6.1},
{"p":"E","g":"Evinacumab 5 mg/kg IV","d":43,"v":2.5,"lo":-8.5,"hi":13.9},
{"p":"E","g":"Evinacumab 5 mg/kg IV","d":64,"v":8.1,"lo":-3.5,"hi":12.3},
{"p":"E","g":"Evinacumab 5 mg/kg IV","d":85,"v":4,"lo":-11.5,"hi":19},
{"p":"E","g":"Evinacumab 5 mg/kg IV","d":106,"v":2,"lo":-14.4,"hi":19.7},
{"p":"E","g":"Evinacumab 10 mg/kg IV","d":1.5,"v":0,"lo":0,"hi":0},
{"p":"E","g":"Evinacumab 10 mg/kg IV","d":2,"v":4.8,"lo":-6.7,"hi":16.1},
{"p":"E","g":"Evinacumab 10 mg/kg IV","d":3,"v":-2.9,"lo":-16.4,"hi":10.5},
{"p":"E","g":"Evinacumab 10 mg/kg IV","d":4,"v":-10.8,"lo":-26.2,"hi":4.5},
{"p":"E","g":"Evinacumab 10 mg/kg IV","d":8,"v":-24.5,"lo":-29,"hi":-4.5},
{"p":"E","g":"Evinacumab 10 mg/kg IV","d":11,"v":-24.7,"lo":-32.5,"hi":-4.3},
{"p":"E","g":"Evinacumab 10 mg/kg IV","d":15,"v":-27.3,"lo":-32.5,"hi":-15.1},
{"p":"E","g":"Evinacumab 10 mg/kg IV","d":22,"v":-25.1,"lo":-30.1,"hi":-9.3},
{"p":"E","g":"Evinacumab 10 mg/kg IV","d":29,"v":-23.7,"lo":-35,"hi":-12.5},
{"p":"E","g":"Evinacumab 10 mg/kg IV","d":43,"v":-17.5,"lo":-28.6,"hi":-4.1},
{"p":"E","g":"Evinacumab 10 mg/kg IV","d":64,"v":-3.5,"lo":-21.9,"hi":12.4},
{"p":"E","g":"Evinacumab 10 mg/kg IV","d":85,"v":-11.3,"lo":-26.7,"hi":4.6},
{"p":"E","g":"Evinacumab 10 mg/kg IV","d":106,"v":1.9,"lo":-14.4,"hi":19.7},
{"p":"E","g":"Evinacumab 20 mg/kg IV","d":1.5,"v":0,"lo":0,"hi":0},
{"p":"E","g":"Evinacumab 20 mg/kg IV","d":2,"v":1.9,"lo":-10,"hi":13.3},
{"p":"E","g":"Evinacumab 20 mg/kg IV","d":3,"v":-4.3,"lo":-17.6,"hi":9.2},
{"p":"E","g":"Evinacumab 20 mg/kg IV","d":4,"v":-6.9,"lo":-17.6,"hi":4.3},
{"p":"E","g":"Evinacumab 20 mg/kg IV","d":8,"v":-17,"lo":-29.1,"hi":-3.1},
{"p":"E","g":"Evinacumab 20 mg/kg IV","d":11,"v":-18.2,"lo":-32.5,"hi":-4.3},
{"p":"E","g":"Evinacumab 20 mg/kg IV","d":15,"v":-20.1,"lo":-32.5,"hi":-6.3},
{"p":"E","g":"Evinacumab 20 mg/kg IV","d":22,"v":-19.8,"lo":-30.1,"hi":-9.3},
{"p":"E","g":"Evinacumab 20 mg/kg IV","d":29,"v":-13.1,"lo":-24.5,"hi":-1.6},
{"p":"E","g":"Evinacumab 20 mg/kg IV","d":43,"v":-8.5,"lo":-19.7,"hi":3},
{"p":"E","g":"Evinacumab 20 mg/kg IV","d":64,"v":-7.1,"lo":-22,"hi":8.4},
{"p":"E","g":"Evinacumab 20 mg/kg IV","d":85,"v":4.8,"lo":-11,"hi":16.4},
{"p":"E","g":"Evinacumab 20 mg/kg IV","d":106,"v":9.2,"lo":-3,"hi":14.3}
]},
"config":{
 "view":{"stroke":null},
 "font":"Liberation Sans",
 "axis":{"domainColor":"#000","tickColor":"#000","labelColor":"#333","titleColor":"#333","grid":false,"titleFontWeight":"normal","labelFontSize":7.5,"titleFontSize":9.3,"domainWidth":1.2,"tickWidth":1.2,"labelFont":"Liberation Sans","titleFont":"Liberation Sans"},
 "axisX":{"tickSize":5,"labelPadding":4,"titlePadding":5,"titleX":310},
 "axisY":{"tickSize":4,"labelPadding":4,"titleX":-33},
 "legend":{"orient":"none","legendX":525.5,"legendY":58.4,"labelFontSize":7.6,"labelColor":"#333","labelFont":"Liberation Sans","symbolSize":36,"symbolStrokeWidth":1.5,"rowPadding":3.8,"labelOffset":6,"padding":0,"labelLimit":300},
 "title":{"anchor":"start","frame":"bounds","fontSize":15,"fontWeight":"bold","font":"Liberation Sans","color":"#111","offset":2}
},
"spacing":22,
"resolve":{"scale":{"x":"independent","y":"independent","color":"independent","fill":"independent","shape":"independent","strokeDash":"independent"},"legend":{"color":"independent","fill":"independent","shape":"independent"}},
"vconcat":[
{"spacing":-8.1,
 "resolve":{"scale":{"x":"independent","y":"independent","color":"independent","fill":"independent","shape":"independent","strokeDash":"independent"},"legend":{"color":"independent","fill":"independent","shape":"independent"}},
 "vconcat":[
 {"title":{"text":"A","dy":23},
  "width":505.3,"height":321.5,
  "transform":[{"filter":"datum.p == 'A'"}],
  "encoding":{
   "x":{"field":"d","type":"quantitative","scale":{"type":"log","domain":[1.08,106.5],"nice":false},"axis":{"values":[1.5,2,3,4,8,11,15,22,29,43,64,85,106],"labelOverlap":false,"labelExpr":"datum.value==1.5?'B':datum.value==106?'EOS':''+datum.value","title":"Study day (nominal)"}},
   "color":{"field":"g","type":"nominal","title":null,"scale":{"domain":["Placebo","Evinacumab 75 mg SC","Evinacumab 150 mg SC","Evinacumab 250 mg SC","Evinacumab 5 mg/kg IV","Evinacumab 10 mg/kg IV","Evinacumab 20 mg/kg IV"],"range":["#E8392D","#4A9BE8","#1A3FDB","#172582","#8FE3C4","#5DBE46","#2F5E2B"]}}
  },
  "layer":[
   {"mark":{"type":"rule","strokeWidth":1.3},"encoding":{"y":{"field":"lo","type":"quantitative","scale":{"domain":[-87.7,70],"nice":false,"zero":false},"axis":{"values":[-80,-70,-60,-50,-40,-30,-20,-10,0,10,20,30,40,50,60,70],"labelOverlap":false,"labelExpr":"datum.value>0?'+'+datum.value:''+datum.value","title":"Change from Baseline (% median, Q1-Q3)"}},"y2":{"field":"hi"}}},
   {"mark":{"type":"tick","orient":"horizontal","size":21,"thickness":0.1,"filled":false,"strokeWidth":1.3},"encoding":{"y":{"field":"lo","type":"quantitative","scale":{"domain":[-87.7,70],"nice":false,"zero":false},"axis":{"values":[-80,-70,-60,-50,-40,-30,-20,-10,0,10,20,30,40,50,60,70],"labelOverlap":false,"labelExpr":"datum.value>0?'+'+datum.value:''+datum.value","title":"Change from Baseline (% median, Q1-Q3)"}}}},
   {"mark":{"type":"tick","orient":"horizontal","size":21,"thickness":0.1,"filled":false,"strokeWidth":1.3},"encoding":{"y":{"field":"hi","type":"quantitative","scale":{"domain":[-87.7,70],"nice":false,"zero":false},"axis":{"values":[-80,-70,-60,-50,-40,-30,-20,-10,0,10,20,30,40,50,60,70],"labelOverlap":false,"labelExpr":"datum.value>0?'+'+datum.value:''+datum.value","title":"Change from Baseline (% median, Q1-Q3)"}}}},
   {"mark":{"type":"line","strokeWidth":1.5},"encoding":{"y":{"field":"v","type":"quantitative","scale":{"domain":[-87.7,70],"nice":false,"zero":false},"axis":{"values":[-80,-70,-60,-50,-40,-30,-20,-10,0,10,20,30,40,50,60,70],"labelOverlap":false,"labelExpr":"datum.value>0?'+'+datum.value:''+datum.value","title":"Change from Baseline (% median, Q1-Q3)"}},"strokeDash":{"field":"g","type":"nominal","legend":null,"scale":{"domain":["Evinacumab 20 mg/kg IV","Evinacumab 10 mg/kg IV","Evinacumab 5 mg/kg IV","Evinacumab 250 mg SC","Evinacumab 150 mg SC","Evinacumab 75 mg SC","Placebo"],"range":[[4,3],[6,2,2,2],[2,2],[5,3],[6,2,2,2],[2,2],[1,0]]}}}},
   {"mark":{"type":"point","filled":false,"opacity":1,"strokeWidth":1.5,"size":40},"encoding":{"y":{"field":"v","type":"quantitative","scale":{"domain":[-87.7,70],"nice":false,"zero":false},"axis":{"values":[-80,-70,-60,-50,-40,-30,-20,-10,0,10,20,30,40,50,60,70],"labelOverlap":false,"labelExpr":"datum.value>0?'+'+datum.value:''+datum.value","title":"Change from Baseline (% median, Q1-Q3)"}},"shape":{"field":"g","type":"nominal","title":null,"scale":{"domain":["Placebo","Evinacumab 75 mg SC","Evinacumab 150 mg SC","Evinacumab 250 mg SC","Evinacumab 5 mg/kg IV","Evinacumab 10 mg/kg IV","Evinacumab 20 mg/kg IV"],"range":["square","circle","triangle-up","diamond","circle","square","circle"]}},"fill":{"field":"g","type":"nominal","title":null,"scale":{"domain":["Placebo","Evinacumab 75 mg SC","Evinacumab 150 mg SC","Evinacumab 250 mg SC","Evinacumab 5 mg/kg IV","Evinacumab 10 mg/kg IV","Evinacumab 20 mg/kg IV"],"range":["#E8392D","#4A9BE8","#1A3FDB","#172582","#8FE3C4","#ffffff","#ffffff"]}}}}
  ]},
 {"title":{"text":"B","dy":-8},
  "width":505.3,"height":321.7,
  "transform":[{"filter":"datum.p == 'B'"}],
  "encoding":{
   "x":{"field":"d","type":"quantitative","scale":{"type":"log","domain":[1.08,106.5],"nice":false},"axis":{"values":[1.5,2,3,4,8,11,15,22,29,43,64,85,106],"labelOverlap":false,"labelExpr":"datum.value==1.5?'B':datum.value==106?'EOS':''+datum.value","title":"Study day (nominal)","titlePadding":6.5}},
   "color":{"field":"g","type":"nominal","title":null,"scale":{"domain":["Placebo","Evinacumab 75 mg SC","Evinacumab 150 mg SC","Evinacumab 250 mg SC","Evinacumab 5 mg/kg IV","Evinacumab 10 mg/kg IV","Evinacumab 20 mg/kg IV"],"range":["#E8392D","#4A9BE8","#1A3FDB","#172582","#8FE3C4","#5DBE46","#2F5E2B"]}}
  },
  "layer":[
   {"mark":{"type":"rule","strokeWidth":1.2},"encoding":{"y":{"field":"lo","type":"quantitative","scale":{"domain":[-25.5,500],"nice":false,"zero":false},"axis":{"values":[0,50,100,150,200,250,300,350,400,450,500],"labelOverlap":false,"title":"Absolute median, (mg/dL, Q1:Q3)"}},"y2":{"field":"hi"}}},
   {"mark":{"type":"tick","orient":"horizontal","size":9,"thickness":0.1,"filled":false,"strokeWidth":1.2},"encoding":{"y":{"field":"lo","type":"quantitative","scale":{"domain":[-25.5,500],"nice":false,"zero":false},"axis":{"values":[0,50,100,150,200,250,300,350,400,450,500],"labelOverlap":false,"title":"Absolute median, (mg/dL, Q1:Q3)"}}}},
   {"mark":{"type":"tick","orient":"horizontal","size":9,"thickness":0.1,"filled":false,"strokeWidth":1.2},"encoding":{"y":{"field":"hi","type":"quantitative","scale":{"domain":[-25.5,500],"nice":false,"zero":false},"axis":{"values":[0,50,100,150,200,250,300,350,400,450,500],"labelOverlap":false,"title":"Absolute median, (mg/dL, Q1:Q3)"}}}},
   {"mark":{"type":"line","strokeWidth":1.5},"encoding":{"y":{"field":"v","type":"quantitative","scale":{"domain":[-25.5,500],"nice":false,"zero":false},"axis":{"values":[0,50,100,150,200,250,300,350,400,450,500],"labelOverlap":false,"title":"Absolute median, (mg/dL, Q1:Q3)"}},"strokeDash":{"field":"g","type":"nominal","legend":null,"scale":{"domain":["Evinacumab 20 mg/kg IV","Evinacumab 10 mg/kg IV","Evinacumab 5 mg/kg IV","Evinacumab 250 mg SC","Evinacumab 150 mg SC","Evinacumab 75 mg SC","Placebo"],"range":[[4,3],[6,2,2,2],[2,2],[5,3],[6,2,2,2],[2,2],[1,0]]}}}},
   {"mark":{"type":"point","filled":false,"opacity":1,"strokeWidth":1.5,"size":40},"encoding":{"y":{"field":"v","type":"quantitative","scale":{"domain":[-25.5,500],"nice":false,"zero":false},"axis":{"values":[0,50,100,150,200,250,300,350,400,450,500],"labelOverlap":false,"title":"Absolute median, (mg/dL, Q1:Q3)"}},"shape":{"field":"g","type":"nominal","title":null,"scale":{"domain":["Placebo","Evinacumab 75 mg SC","Evinacumab 150 mg SC","Evinacumab 250 mg SC","Evinacumab 5 mg/kg IV","Evinacumab 10 mg/kg IV","Evinacumab 20 mg/kg IV"],"range":["square","circle","triangle-up","diamond","circle","square","circle"]}},"fill":{"field":"g","type":"nominal","title":null,"scale":{"domain":["Placebo","Evinacumab 75 mg SC","Evinacumab 150 mg SC","Evinacumab 250 mg SC","Evinacumab 5 mg/kg IV","Evinacumab 10 mg/kg IV","Evinacumab 20 mg/kg IV"],"range":["#E8392D","#4A9BE8","#1A3FDB","#172582","#8FE3C4","#ffffff","#ffffff"]}}}}
  ]},
 {"title":{"text":"C","dy":5.5},
  "width":505.3,"height":324.3,
  "transform":[{"filter":"datum.p == 'C'"}],
  "encoding":{
   "x":{"field":"d","type":"quantitative","scale":{"type":"log","domain":[1.08,106.5],"nice":false},"axis":{"values":[1.5,2,3,4,8,11,15,22,29,43,64,85,106],"labelOverlap":false,"labelExpr":"datum.value==1.5?'B':datum.value==106?'EOS':''+datum.value","title":"Study day (nominal)"}},
   "color":{"field":"g","type":"nominal","title":null,"scale":{"domain":["Placebo","Evinacumab 75 mg SC","Evinacumab 150 mg SC","Evinacumab 250 mg SC","Evinacumab 5 mg/kg IV","Evinacumab 10 mg/kg IV","Evinacumab 20 mg/kg IV"],"range":["#E8392D","#4A9BE8","#1A3FDB","#172582","#8FE3C4","#5DBE46","#2F5E2B"]}}
  },
  "layer":[
   {"mark":{"type":"rule","strokeWidth":1.3},"encoding":{"y":{"field":"lo","type":"quantitative","scale":{"domain":[-107.1,40],"nice":false,"zero":false},"axis":{"values":[-100,-90,-80,-70,-60,-50,-40,-30,-20,-10,0,10,20,30,40],"labelOverlap":false,"labelFontSize":6.8,"labelExpr":"datum.value>0?'+'+datum.value:''+datum.value","title":"Change from Baseline (% LSM, SE)"}},"y2":{"field":"hi"}}},
   {"mark":{"type":"tick","orient":"horizontal","size":24,"thickness":0.1,"filled":false,"strokeWidth":1.3},"encoding":{"y":{"field":"lo","type":"quantitative","scale":{"domain":[-107.1,40],"nice":false,"zero":false},"axis":{"values":[-100,-90,-80,-70,-60,-50,-40,-30,-20,-10,0,10,20,30,40],"labelOverlap":false,"labelFontSize":6.8,"labelExpr":"datum.value>0?'+'+datum.value:''+datum.value","title":"Change from Baseline (% LSM, SE)"}}}},
   {"mark":{"type":"tick","orient":"horizontal","size":24,"thickness":0.1,"filled":false,"strokeWidth":1.3},"encoding":{"y":{"field":"hi","type":"quantitative","scale":{"domain":[-107.1,40],"nice":false,"zero":false},"axis":{"values":[-100,-90,-80,-70,-60,-50,-40,-30,-20,-10,0,10,20,30,40],"labelOverlap":false,"labelFontSize":6.8,"labelExpr":"datum.value>0?'+'+datum.value:''+datum.value","title":"Change from Baseline (% LSM, SE)"}}}},
   {"mark":{"type":"line","strokeWidth":1.5},"encoding":{"y":{"field":"v","type":"quantitative","scale":{"domain":[-107.1,40],"nice":false,"zero":false},"axis":{"values":[-100,-90,-80,-70,-60,-50,-40,-30,-20,-10,0,10,20,30,40],"labelOverlap":false,"labelFontSize":6.8,"labelExpr":"datum.value>0?'+'+datum.value:''+datum.value","title":"Change from Baseline (% LSM, SE)"}},"strokeDash":{"field":"g","type":"nominal","legend":null,"scale":{"domain":["Evinacumab 20 mg/kg IV","Evinacumab 10 mg/kg IV","Evinacumab 5 mg/kg IV","Evinacumab 250 mg SC","Evinacumab 150 mg SC","Evinacumab 75 mg SC","Placebo"],"range":[[4,3],[6,2,2,2],[2,2],[5,3],[6,2,2,2],[2,2],[1,0]]}}}},
   {"mark":{"type":"point","filled":false,"opacity":1,"strokeWidth":1.5,"size":40},"encoding":{"y":{"field":"v","type":"quantitative","scale":{"domain":[-107.1,40],"nice":false,"zero":false},"axis":{"values":[-100,-90,-80,-70,-60,-50,-40,-30,-20,-10,0,10,20,30,40],"labelOverlap":false,"labelFontSize":6.8,"labelExpr":"datum.value>0?'+'+datum.value:''+datum.value","title":"Change from Baseline (% LSM, SE)"}},"shape":{"field":"g","type":"nominal","title":null,"scale":{"domain":["Placebo","Evinacumab 75 mg SC","Evinacumab 150 mg SC","Evinacumab 250 mg SC","Evinacumab 5 mg/kg IV","Evinacumab 10 mg/kg IV","Evinacumab 20 mg/kg IV"],"range":["square","circle","triangle-up","diamond","circle","square","circle"]}},"fill":{"field":"g","type":"nominal","title":null,"scale":{"domain":["Placebo","Evinacumab 75 mg SC","Evinacumab 150 mg SC","Evinacumab 250 mg SC","Evinacumab 5 mg/kg IV","Evinacumab 10 mg/kg IV","Evinacumab 20 mg/kg IV"],"range":["#E8392D","#4A9BE8","#1A3FDB","#172582","#8FE3C4","#ffffff","#ffffff"]}}}}
  ]}
 ]},
{"spacing":5.5,
 "resolve":{"scale":{"x":"independent","y":"independent","color":"independent","fill":"independent","shape":"independent","strokeDash":"independent"},"legend":{"color":"independent","fill":"independent","shape":"independent"}},
 "vconcat":[
 {"title":{"text":"D","dy":20.7},
  "width":505.3,"height":324,
  "transform":[{"filter":"datum.p == 'D'"}],
  "encoding":{
   "x":{"field":"d","type":"quantitative","scale":{"type":"log","domain":[1.08,106.5],"nice":false},"axis":{"values":[1.5,2,3,4,8,11,15,22,29,43,64,85,106],"labelOverlap":false,"labelExpr":"datum.value==1.5?'B':datum.value==106?'EOS':''+datum.value","title":"Study day (nominal)"}},
   "color":{"field":"g","type":"nominal","title":null,"scale":{"domain":["Placebo","Evinacumab 75 mg SC","Evinacumab 150 mg SC","Evinacumab 250 mg SC","Evinacumab 5 mg/kg IV","Evinacumab 10 mg/kg IV","Evinacumab 20 mg/kg IV"],"range":["#E8392D","#4A9BE8","#1A3FDB","#172582","#8FE3C4","#5DBE46","#2F5E2B"]}}
  },
  "layer":[
   {"mark":{"type":"rule","strokeWidth":1.3},"encoding":{"y":{"field":"lo","type":"quantitative","scale":{"domain":[-43.1,28.2],"nice":false,"zero":false},"axis":{"values":[-40,-30,-20,-10,0,10,20],"labelOverlap":false,"labelExpr":"datum.value>0?'+'+datum.value:''+datum.value","title":"Change from Baseline (% LSM, SE)"}},"y2":{"field":"hi"}}},
   {"mark":{"type":"tick","orient":"horizontal","size":23,"thickness":0.1,"filled":false,"strokeWidth":1.3},"encoding":{"y":{"field":"lo","type":"quantitative","scale":{"domain":[-43.1,28.2],"nice":false,"zero":false},"axis":{"values":[-40,-30,-20,-10,0,10,20],"labelOverlap":false,"labelExpr":"datum.value>0?'+'+datum.value:''+datum.value","title":"Change from Baseline (% LSM, SE)"}}}},
   {"mark":{"type":"tick","orient":"horizontal","size":23,"thickness":0.1,"filled":false,"strokeWidth":1.3},"encoding":{"y":{"field":"hi","type":"quantitative","scale":{"domain":[-43.1,28.2],"nice":false,"zero":false},"axis":{"values":[-40,-30,-20,-10,0,10,20],"labelOverlap":false,"labelExpr":"datum.value>0?'+'+datum.value:''+datum.value","title":"Change from Baseline (% LSM, SE)"}}}},
   {"mark":{"type":"line","strokeWidth":1.5},"encoding":{"y":{"field":"v","type":"quantitative","scale":{"domain":[-43.1,28.2],"nice":false,"zero":false},"axis":{"values":[-40,-30,-20,-10,0,10,20],"labelOverlap":false,"labelExpr":"datum.value>0?'+'+datum.value:''+datum.value","title":"Change from Baseline (% LSM, SE)"}},"strokeDash":{"field":"g","type":"nominal","legend":null,"scale":{"domain":["Evinacumab 20 mg/kg IV","Evinacumab 10 mg/kg IV","Evinacumab 5 mg/kg IV","Evinacumab 250 mg SC","Evinacumab 150 mg SC","Evinacumab 75 mg SC","Placebo"],"range":[[4,3],[6,2,2,2],[2,2],[5,3],[6,2,2,2],[2,2],[1,0]]}}}},
   {"mark":{"type":"point","filled":false,"opacity":1,"strokeWidth":1.5,"size":40},"encoding":{"y":{"field":"v","type":"quantitative","scale":{"domain":[-43.1,28.2],"nice":false,"zero":false},"axis":{"values":[-40,-30,-20,-10,0,10,20],"labelOverlap":false,"labelExpr":"datum.value>0?'+'+datum.value:''+datum.value","title":"Change from Baseline (% LSM, SE)"}},"shape":{"field":"g","type":"nominal","title":null,"scale":{"domain":["Placebo","Evinacumab 75 mg SC","Evinacumab 150 mg SC","Evinacumab 250 mg SC","Evinacumab 5 mg/kg IV","Evinacumab 10 mg/kg IV","Evinacumab 20 mg/kg IV"],"range":["square","circle","triangle-up","diamond","circle","square","circle"]}},"fill":{"field":"g","type":"nominal","title":null,"scale":{"domain":["Placebo","Evinacumab 75 mg SC","Evinacumab 150 mg SC","Evinacumab 250 mg SC","Evinacumab 5 mg/kg IV","Evinacumab 10 mg/kg IV","Evinacumab 20 mg/kg IV"],"range":["#E8392D","#4A9BE8","#1A3FDB","#172582","#8FE3C4","#ffffff","#ffffff"]}}}}
  ]},
 {"title":{"text":"E","dy":19},
  "width":505.3,"height":323.3,
  "transform":[{"filter":"datum.p == 'E'"}],
  "encoding":{
   "x":{"field":"d","type":"quantitative","scale":{"type":"log","domain":[1.08,106.5],"nice":false},"axis":{"values":[1.5,2,3,4,8,11,15,22,29,43,64,85,106],"labelOverlap":false,"labelExpr":"datum.value==1.5?'B':datum.value==106?'EOS':''+datum.value","title":"Study day (nominal)"}},
   "color":{"field":"g","type":"nominal","title":null,"scale":{"domain":["Placebo","Evinacumab 75 mg SC","Evinacumab 150 mg SC","Evinacumab 250 mg SC","Evinacumab 5 mg/kg IV","Evinacumab 10 mg/kg IV","Evinacumab 20 mg/kg IV"],"range":["#E8392D","#4A9BE8","#1A3FDB","#172582","#8FE3C4","#5DBE46","#2F5E2B"]}}
  },
  "layer":[
   {"mark":{"type":"rule","strokeWidth":1.3},"encoding":{"y":{"field":"lo","type":"quantitative","scale":{"domain":[-37.7,22.6],"nice":false,"zero":false},"axis":{"values":[-30,-20,-10,0,10,20],"labelOverlap":false,"labelExpr":"datum.value>0?'+'+datum.value:''+datum.value","title":"Change from Baseline (% LSM, SE)"}},"y2":{"field":"hi"}}},
   {"mark":{"type":"tick","orient":"horizontal","size":25,"thickness":0.1,"filled":false,"strokeWidth":1.3},"encoding":{"y":{"field":"lo","type":"quantitative","scale":{"domain":[-37.7,22.6],"nice":false,"zero":false},"axis":{"values":[-30,-20,-10,0,10,20],"labelOverlap":false,"labelExpr":"datum.value>0?'+'+datum.value:''+datum.value","title":"Change from Baseline (% LSM, SE)"}}}},
   {"mark":{"type":"tick","orient":"horizontal","size":25,"thickness":0.1,"filled":false,"strokeWidth":1.3},"encoding":{"y":{"field":"hi","type":"quantitative","scale":{"domain":[-37.7,22.6],"nice":false,"zero":false},"axis":{"values":[-30,-20,-10,0,10,20],"labelOverlap":false,"labelExpr":"datum.value>0?'+'+datum.value:''+datum.value","title":"Change from Baseline (% LSM, SE)"}}}},
   {"mark":{"type":"line","strokeWidth":1.5},"encoding":{"y":{"field":"v","type":"quantitative","scale":{"domain":[-37.7,22.6],"nice":false,"zero":false},"axis":{"values":[-30,-20,-10,0,10,20],"labelOverlap":false,"labelExpr":"datum.value>0?'+'+datum.value:''+datum.value","title":"Change from Baseline (% LSM, SE)"}},"strokeDash":{"field":"g","type":"nominal","legend":null,"scale":{"domain":["Evinacumab 20 mg/kg IV","Evinacumab 10 mg/kg IV","Evinacumab 5 mg/kg IV","Evinacumab 250 mg SC","Evinacumab 150 mg SC","Evinacumab 75 mg SC","Placebo"],"range":[[4,3],[6,2,2,2],[2,2],[5,3],[6,2,2,2],[2,2],[1,0]]}}}},
   {"mark":{"type":"point","filled":false,"opacity":1,"strokeWidth":1.5,"size":40},"encoding":{"y":{"field":"v","type":"quantitative","scale":{"domain":[-37.7,22.6],"nice":false,"zero":false},"axis":{"values":[-30,-20,-10,0,10,20],"labelOverlap":false,"labelExpr":"datum.value>0?'+'+datum.value:''+datum.value","title":"Change from Baseline (% LSM, SE)"}},"shape":{"field":"g","type":"nominal","title":null,"scale":{"domain":["Placebo","Evinacumab 75 mg SC","Evinacumab 150 mg SC","Evinacumab 250 mg SC","Evinacumab 5 mg/kg IV","Evinacumab 10 mg/kg IV","Evinacumab 20 mg/kg IV"],"range":["square","circle","triangle-up","diamond","circle","square","circle"]}},"fill":{"field":"g","type":"nominal","title":null,"scale":{"domain":["Placebo","Evinacumab 75 mg SC","Evinacumab 150 mg SC","Evinacumab 250 mg SC","Evinacumab 5 mg/kg IV","Evinacumab 10 mg/kg IV","Evinacumab 20 mg/kg IV"],"range":["#E8392D","#4A9BE8","#1A3FDB","#172582","#8FE3C4","#ffffff","#ffffff"]}}}}
  ]}
 ]}
]
}
